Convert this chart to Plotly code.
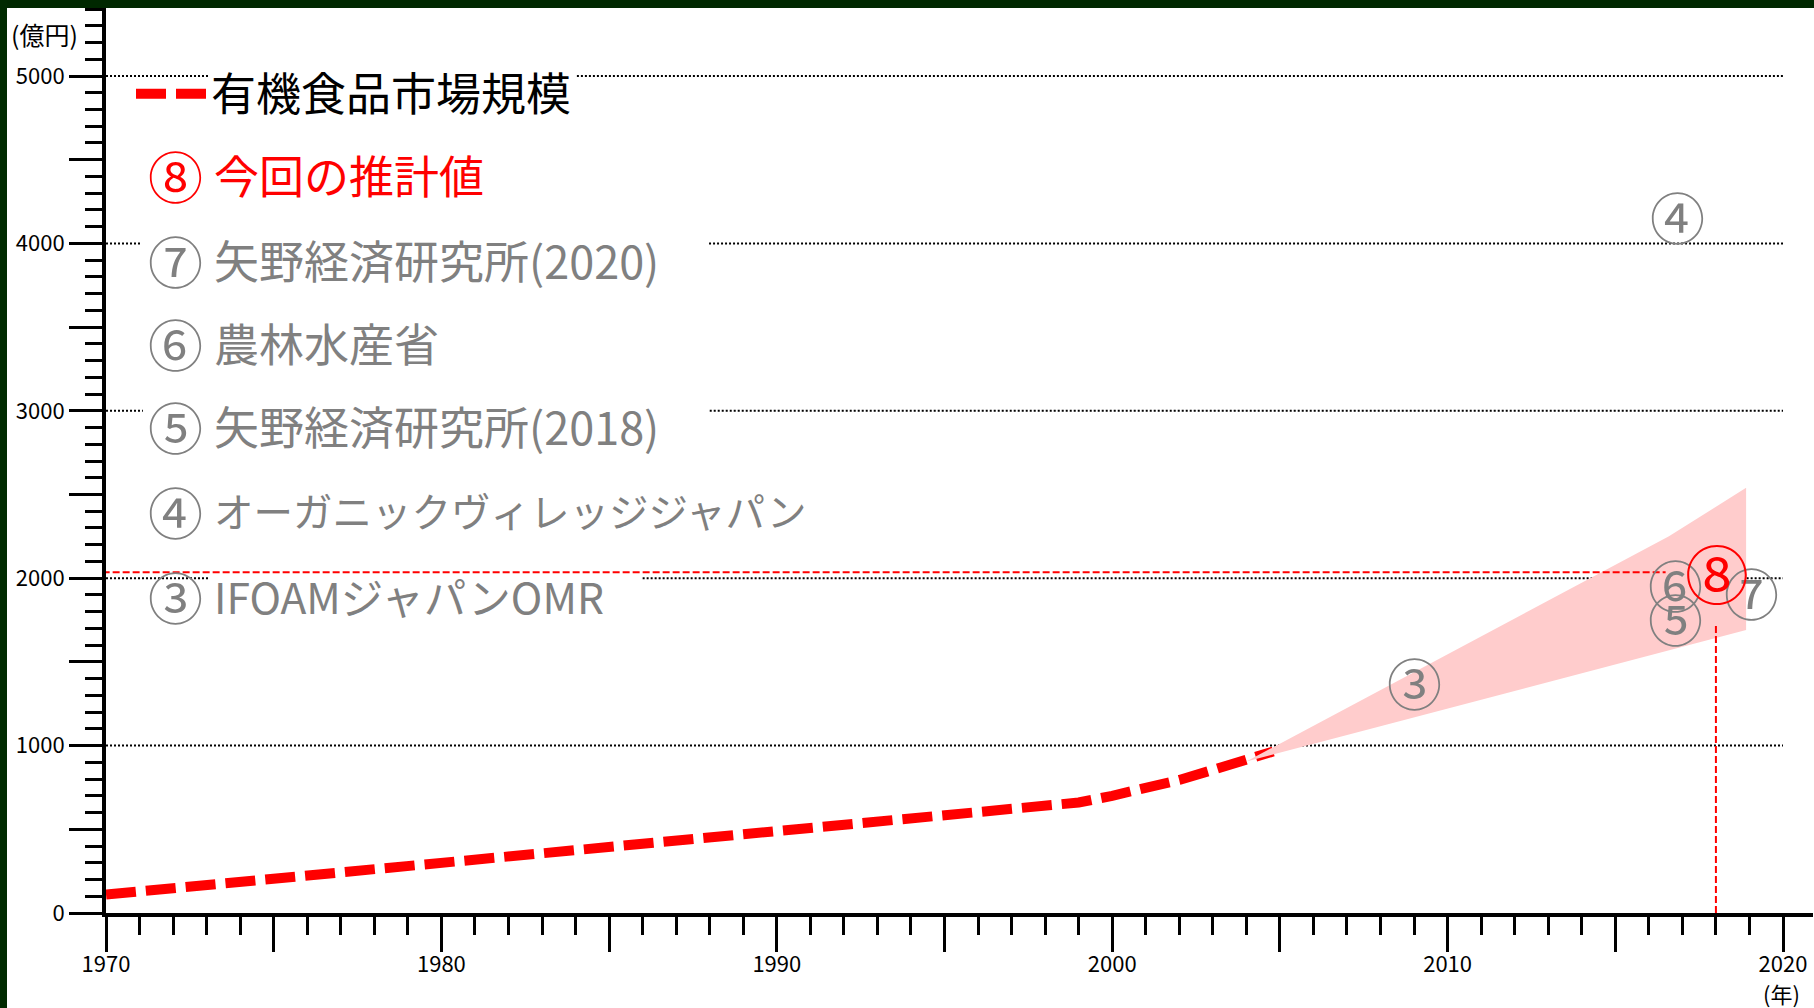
import plotly.graph_objects as go

# ---------------- data ----------------
market_years = [1970, 1998, 1999, 2000, 2001, 2002, 2003, 2004, 2004.8]
market_values = [110, 630, 660, 700, 745, 795, 855, 915, 965]

fan_upper_years = [2004.0, 2016.6, 2018.9]
fan_upper_values = [905, 2250, 2540]
fan_lower_years = [2018.9, 2004.0]
fan_lower_values = [1690, 905]

estimate_year = 2018
estimate_value = 2035
estimate_hline_end = 2016.5
estimate_vline_top = 1730

source_labels = ["③", "④", "⑥", "⑤", "⑦", "⑧"]
source_years = [2009.0, 2016.84, 2016.78, 2016.78, 2019.05, 2018.03]
source_values = [1374, 4160, 1960, 1756, 1912, 2031]

legend_labels = ["⑧", "⑦", "⑥", "⑤", "④", "③"]
legend_texts = ["今回の推計値", "矢野経済研究所(2020)", "農林水産省",
                "矢野経済研究所(2018)", "オーガニックヴィレッジジャパン", "IFOAMジャパンOMR"]

x_tickvals = list(range(1970, 2021, 5))
x_ticktext = ["1970", "", "1980", "", "1990", "", "2000", "", "2010", "", "2020"]
y_tickvals = list(range(0, 5001, 500))
y_ticktext = ["0", "", "1000", "", "2000", "", "3000", "", "4000", "", "5000"]

grid_values = [1000, 2000, 3000, 4000, 5000]
# gaps in the dotted grid lines behind the legend texts (year ranges)
grid_gaps = {1000: None, 2000: (1973.1, 1986.0), 3000: (1971.1, 1988.0),
             4000: (1971.07, 1987.98), 5000: (1973.07, 1984.04)}

# ---------------- layout geometry ----------------
W, H = 1814, 1008
ML, MR, MT, MB = 106, 1, 8, 95
PW, PH = W - ML - MR, H - MT - MB
X_MAX = 1970 + PW / 33.54
Y_MAX = PH / 0.1674

def xp(px):
    return (px - ML) / PW

def yp(py):
    return (H - MB - py) / PH

FONT = "Noto Sans CJK JP"
RED = "#FF0000"
GRAY = "#808080"

fig = go.Figure()

# main market line
fig.add_trace(go.Scatter(
    x=market_years, y=market_values, mode="lines", name="有機食品市場規模",
    line=dict(color=RED, width=10, dash="30px,10px"), showlegend=True,
    hoverinfo="skip"))

# estimate fan
fig.add_trace(go.Scatter(
    x=fan_upper_years + fan_lower_years, y=fan_upper_values + fan_lower_values,
    mode="lines", fill="toself", fillcolor="#FFCCCC",
    line=dict(width=0, color="#FFCCCC"), showlegend=False, hoverinfo="skip"))

# estimate guide lines
fig.add_trace(go.Scatter(
    x=[1969.9, estimate_hline_end], y=[estimate_value, estimate_value], mode="lines",
    line=dict(color=RED, width=2, dash="7px,3px"), showlegend=False, hoverinfo="skip",
    cliponaxis=False))
fig.add_trace(go.Scatter(
    x=[estimate_year, estimate_year], y=[0, estimate_vline_top], mode="lines",
    line=dict(color=RED, width=2, dash="7px,3px"), showlegend=False, hoverinfo="skip"))

# dotted grid lines
shapes = []
for gv in grid_values:
    gap = grid_gaps[gv]
    segs = [(1970, 2020)] if gap is None else [(1970, gap[0]), (gap[1], 2020)]
    for a, b in segs:
        shapes.append(dict(type="line", xref="x", yref="y", x0=a, x1=b, y0=gv, y1=gv,
                           line=dict(color="black", width=2, dash="2px,2px"),
                           layer="below"))

# dark green frame (top and left)
shapes.append(dict(type="rect", xref="paper", yref="paper",
                   x0=xp(0), x1=xp(W), y0=yp(8), y1=yp(-5),
                   fillcolor="#002800", line=dict(width=0), layer="above"))
shapes.append(dict(type="rect", xref="paper", yref="paper",
                   x0=xp(-5), x1=xp(7), y0=yp(H + 5), y1=yp(-5),
                   fillcolor="#002a00", line=dict(width=0), layer="above"))

annotations = []
# source markers on the chart
for lab, yr, val in zip(source_labels, source_years, source_values):
    big = lab == "⑧"
    annotations.append(dict(xref="x", yref="y", x=yr, y=val, text=lab, showarrow=False,
                            xanchor="center", yanchor="middle", yshift=2,
                            font=dict(family=FONT, size=64 if big else 55,
                                      color=RED if big else GRAY)))

row_y = [174, 259, 342, 425, 510, 595]
text_sizes = [45, 45, 45, 45, 39.5, 42.5]
for i, (lab, txt) in enumerate(zip(legend_labels, legend_texts)):
    col = RED if lab == "⑧" else GRAY
    annotations.append(dict(xref="paper", yref="paper", x=xp(175), y=yp(row_y[i]),
                            text=lab, showarrow=False, xanchor="center", yanchor="middle",
                            yshift=0,
                            font=dict(family=FONT, size=55, color=col)))
    annotations.append(dict(xref="paper", yref="paper", x=xp(212), y=yp(row_y[i]),
                            text=txt, showarrow=False, xanchor="left", yanchor="middle",
                            font=dict(family=FONT, size=text_sizes[i], color=col)))

annotations.append(dict(xref="paper", yref="paper", x=xp(44), y=yp(34), text="(億円)",
                        showarrow=False, xanchor="center", yanchor="middle",
                        font=dict(family=FONT, size=25, color="black")))
annotations.append(dict(xref="paper", yref="paper", x=xp(1781), y=yp(993), text="(年)",
                        showarrow=False, xanchor="center", yanchor="middle",
                        font=dict(family=FONT, size=22, color="black")))

fig.update_layout(
    width=W, height=H,
    margin=dict(l=ML, r=MR, t=MT, b=MB, pad=0),
    paper_bgcolor="white", plot_bgcolor="white",
    font=dict(family=FONT, size=22, color="black"),
    shapes=shapes, annotations=annotations,
    showlegend=True,
    legend=dict(x=xp(131), y=yp(94), xanchor="left", yanchor="middle",
                font=dict(family=FONT, size=45, color="black"),
                bgcolor="rgba(0,0,0,0)", itemwidth=70, borderwidth=0),
    xaxis=dict(range=[1970, X_MAX], tickmode="array", tickvals=x_tickvals,
               ticktext=x_ticktext, ticks="outside", ticklen=35, tickwidth=3,
               tickcolor="black", showline=True, linewidth=4, linecolor="black",
               showgrid=False, zeroline=False, ticklabelstandoff=-6,
               minor=dict(dtick=1, tick0=1970, ticks="outside", ticklen=18,
                          tickwidth=3, tickcolor="black", showgrid=False),
               tickfont=dict(family=FONT, size=22, color="black")),
    yaxis=dict(range=[0, Y_MAX], tickmode="array", tickvals=y_tickvals,
               ticktext=y_ticktext, ticks="outside", ticklen=33, tickwidth=3,
               tickcolor="black", showline=True, linewidth=4, linecolor="black",
               showgrid=False, zeroline=False,
               minor=dict(dtick=100, tick0=0, ticks="outside", ticklen=17,
                          tickwidth=2.5, tickcolor="black", showgrid=False),
               tickfont=dict(family=FONT, size=22, color="black")),
)

fig.write_html("out.html")
